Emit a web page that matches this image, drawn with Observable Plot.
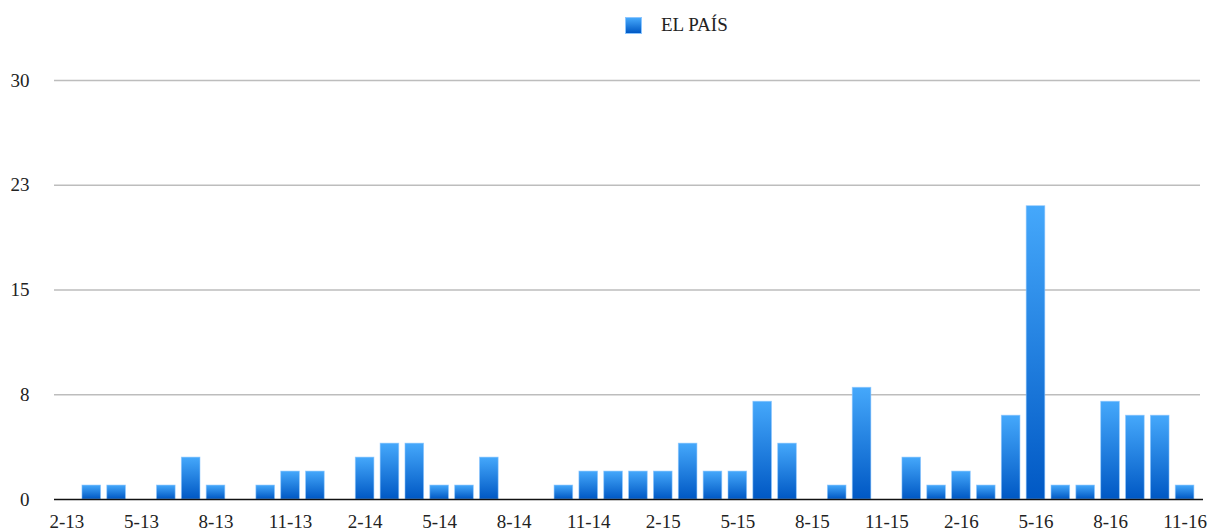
<!DOCTYPE html>
<html><head><meta charset="utf-8">
<script src="https://cdn.jsdelivr.net/npm/d3@7"></script>
<script src="https://cdn.jsdelivr.net/npm/@observablehq/plot@0.6"></script>
<style>
body{margin:0;background:#fff;font-family:"Liberation Serif","Times New Roman",serif;}
#legend{position:relative;height:50px;width:1219px;}
#legend .sw{position:absolute;left:625px;top:17px;width:17px;height:17px;background:linear-gradient(#45a8fb,#0058c4);box-sizing:border-box;border:1px solid #8cc6ff;}
#legend .lbl{position:absolute;left:661px;top:14px;font-size:19px;line-height:22px;color:#222;}
#chart svg{display:block;}
</style></head><body>
<div id="legend"><span class="sw"></span><span class="lbl">EL PAÍS</span></div>
<div id="chart"></div>
<script>
const months = ["2-13","3-13","4-13","5-13","6-13","7-13","8-13","9-13","10-13","11-13","12-13",
  "1-14","2-14","3-14","4-14","5-14","6-14","7-14","8-14","9-14","10-14","11-14","12-14",
  "1-15","2-15","3-15","4-15","5-15","6-15","7-15","8-15","9-15","10-15","11-15","12-15",
  "1-16","2-16","3-16","4-16","5-16","6-16","7-16","8-16","9-16","10-16","11-16"];
const values = [0,1,1,0,1,3,1,0,1,2,2,
  0,3,4,4,1,1,3,0,0,1,2,2,
  2,2,4,2,2,7,4,0,1,8,0,3,
  1,2,1,6,21,1,1,7,6,6,1];
const xTicks = ["2-13","5-13","8-13","11-13","2-14","5-14","8-14","11-14","2-15","5-15","8-15","11-15","2-16","5-16","8-16","11-16"];
const yTicks = [0, 7.5, 15, 22.5, 30];
const yTickLabels = ["0","8","15","23","30"];

const data = months.map((m, i) => ({month: m, value: values[i]}));

const svg = Plot.plot({
  width: 1219,
  height: 481,
  marginTop: 30,
  marginBottom: 32,
  marginLeft: 54,
  marginRight: 22,
  style: {fontFamily: '"Liberation Serif","Times New Roman",serif', fontSize: "19px", color: "#222", background: "#fff"},
  x: {domain: months, paddingInner: 0.25, paddingOuter: 0.125, label: null},
  y: {domain: [0, 30], label: null},
  marks: [
    Plot.ruleY(yTicks.filter(d => d > 0), {stroke: "#bdbdbd", strokeWidth: 1.6, insetRight: -3}),
    Plot.barY(data, {x: "month", y: "value", fill: "url(#barGrad)", stroke: "#8cc6ff", strokeWidth: 0.8, strokeOpacity: 0.7}),
    Plot.ruleY([0], {stroke: "#111", strokeWidth: 1.6, insetRight: -6}),
    Plot.axisX({ticks: xTicks, tickSize: 0, tickPadding: 15, fontSize: 19, fill: "#222"}),
    Plot.axisY({ticks: yTicks, tickFormat: d => yTickLabels[yTicks.indexOf(d)], tickSize: 0, tickPadding: 25, fontSize: 19, fill: "#222"})
  ]
});

const ns = "http://www.w3.org/2000/svg";
const defs = document.createElementNS(ns, "defs");
const grad = document.createElementNS(ns, "linearGradient");
grad.setAttribute("id", "barGrad");
grad.setAttribute("x1", "0"); grad.setAttribute("y1", "0");
grad.setAttribute("x2", "0"); grad.setAttribute("y2", "1");
[["0%", "#45a8fb"], ["100%", "#0058c4"]].forEach(([o, c]) => {
  const s = document.createElementNS(ns, "stop");
  s.setAttribute("offset", o); s.setAttribute("stop-color", c);
  grad.appendChild(s);
});
defs.appendChild(grad);
svg.insertBefore(defs, svg.firstChild);
document.getElementById("chart").appendChild(svg);
</script>
</body></html>
